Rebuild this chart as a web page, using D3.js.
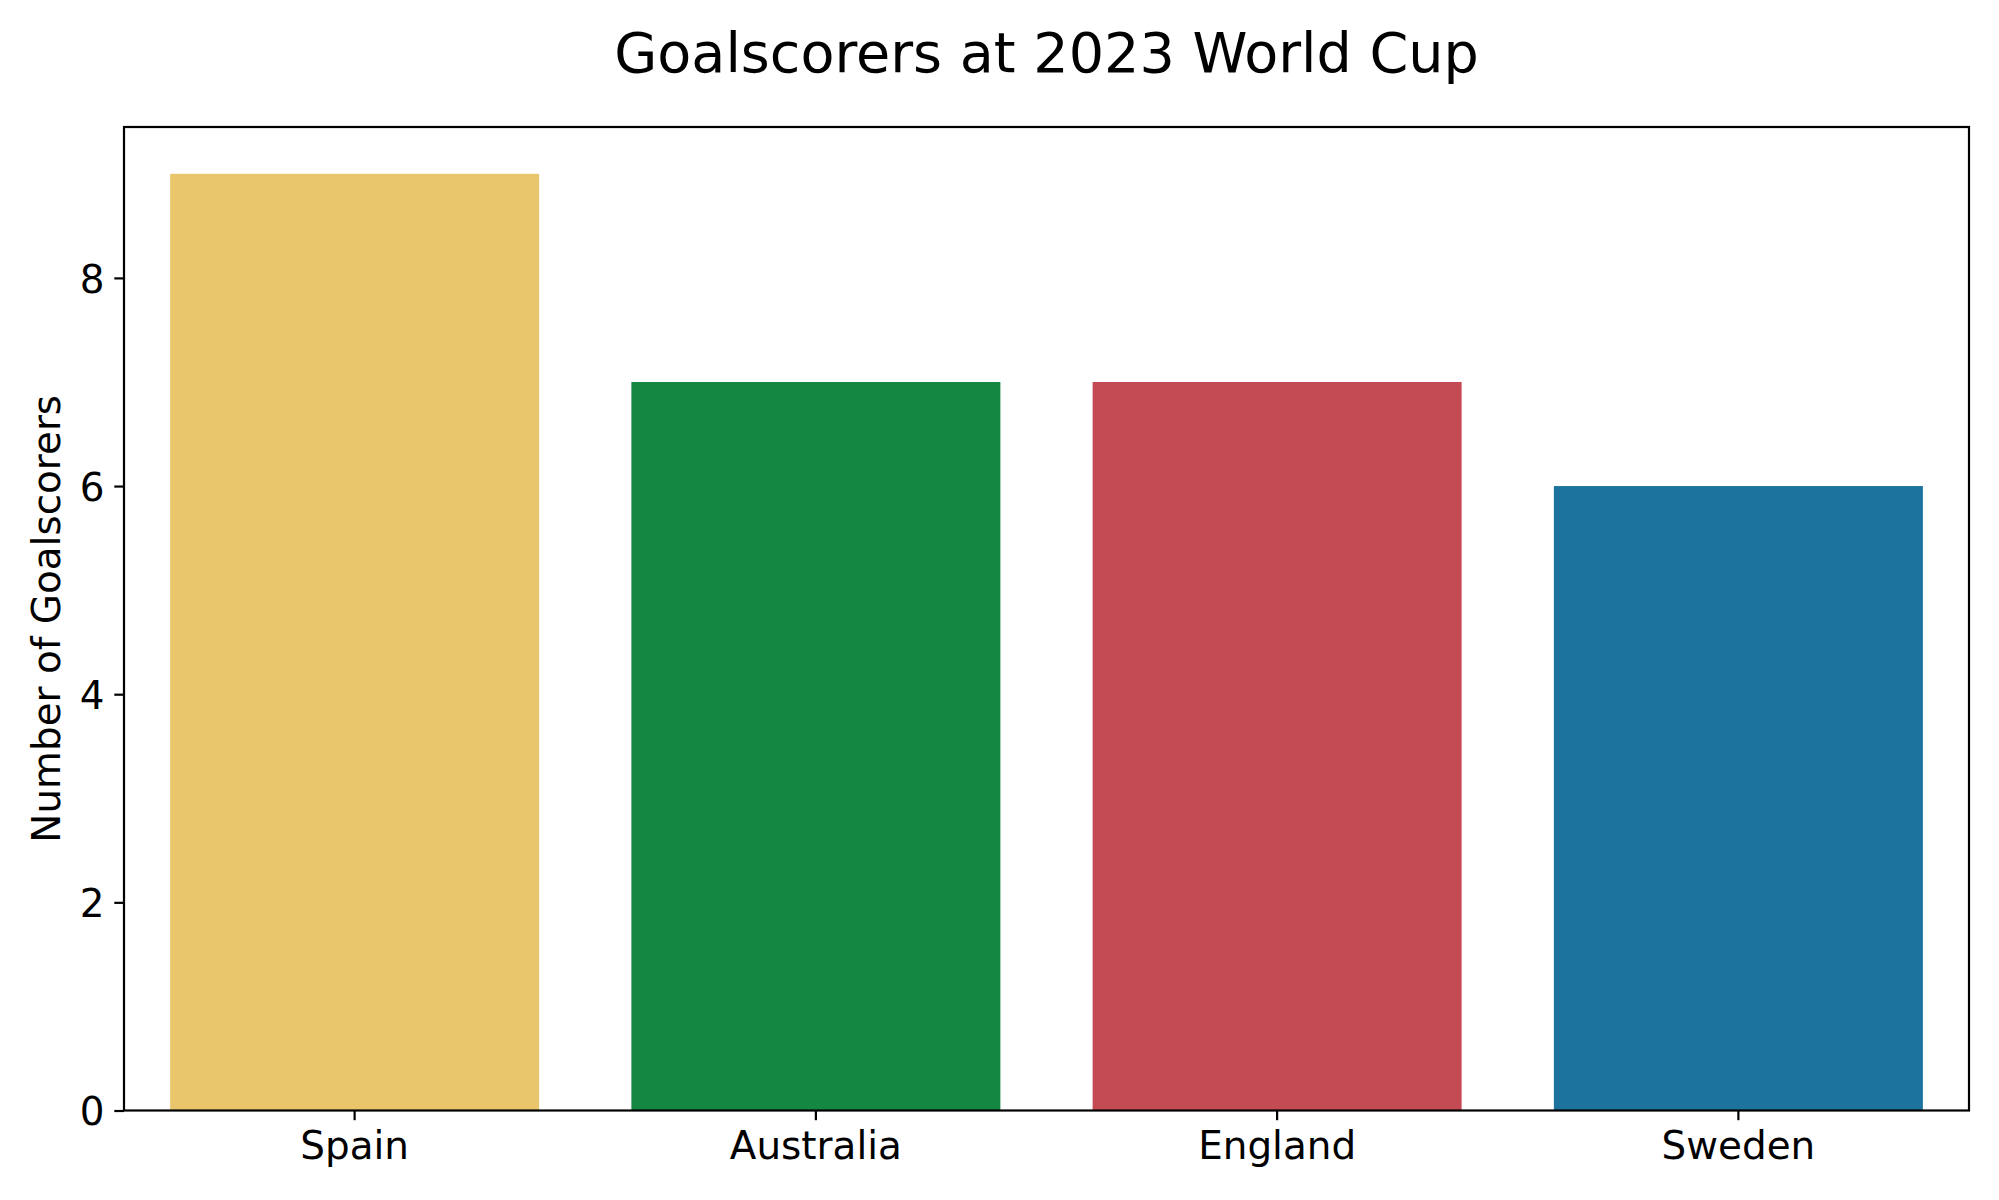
<!DOCTYPE html>
<html>
<head>
<meta charset="utf-8">
<script src="https://cdn.jsdelivr.net/npm/d3@7"></script>
<style>
  html, body { margin: 0; padding: 0; background: #fff; }
  svg { display: block; font-family: "DejaVu Sans", sans-serif; }
</style>
</head>
<body>
<svg id="chart" width="1999" height="1200"></svg>
<script>
const categories = ["Spain", "Australia", "England", "Sweden"];
const values = [9, 7, 7, 6];
const barColors = ["#E9C66B", "#148842", "#C44A53", "#1C739E"];
const yTicks = [0, 2, 4, 6, 8];
const titleText = "Goalscorers at 2023 World Cup";
const yLabelText = "Number of Goalscorers";

const W = 1999, H = 1200;
const m = { left: 124, right: 1969, top: 127, bottom: 1110.5 };
const svg = d3.select("#chart");

const x = d3.scaleBand().domain(categories).range([m.left, m.right])
  .paddingInner(0.2).paddingOuter(0.1);
const y = d3.scaleLinear().domain([0, 9.45]).range([m.bottom, m.top]);

// bars
svg.append("g").selectAll("rect").data(categories).join("rect")
  .attr("x", d => x(d))
  .attr("width", x.bandwidth())
  .attr("y", (d, i) => y(values[i]))
  .attr("height", (d, i) => y(0) - y(values[i]))
  .attr("fill", (d, i) => barColors[i]);

const tickLen = 9.7, tickPad = 9.7, fs = 38.9;

// y axis
const yAxis = d3.axisLeft(y).tickValues(yTicks).tickFormat(d3.format("d"))
  .tickSize(tickLen).tickPadding(tickPad);
const gy = svg.append("g").attr("transform", `translate(${m.left},0)`).call(yAxis);
gy.select(".domain").remove();
gy.selectAll(".tick line").attr("stroke", "#000").attr("stroke-width", 2.2);
gy.selectAll(".tick text").attr("font-size", fs).attr("fill", "#000")
  .attr("font-family", "DejaVu Sans").attr("dy", "0.365em");

// x axis
const xAxis = d3.axisBottom(x).tickSize(tickLen).tickPadding(tickPad);
const gx = svg.append("g").attr("transform", `translate(0,${m.bottom})`).call(xAxis);
gx.select(".domain").remove();
gx.selectAll(".tick line").attr("stroke", "#000").attr("stroke-width", 2.2);
gx.selectAll(".tick text").attr("font-size", fs).attr("fill", "#000")
  .attr("font-family", "DejaVu Sans").attr("dy", "0.76em");

// frame
svg.append("rect")
  .attr("x", m.left).attr("y", m.top)
  .attr("width", m.right - m.left).attr("height", m.bottom - m.top)
  .attr("fill", "none").attr("stroke", "#000").attr("stroke-width", 2.2);

// title
svg.append("text")
  .attr("x", (m.left + m.right) / 2).attr("y", 72)
  .attr("text-anchor", "middle").attr("font-size", 55.6).attr("fill", "#000")
  .text(titleText);

// y label
svg.append("text")
  .attr("transform", `translate(60,${(m.top + m.bottom) / 2}) rotate(-90)`)
  .attr("text-anchor", "middle").attr("font-size", fs).attr("fill", "#000")
  .text(yLabelText);
</script>
</body>
</html>
